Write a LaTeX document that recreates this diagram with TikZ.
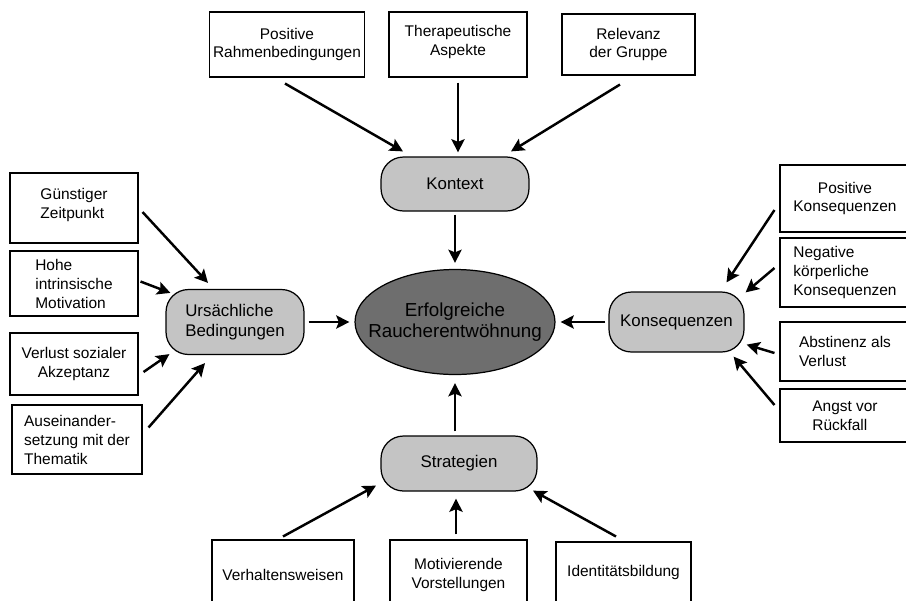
\documentclass[tikz,border=0pt]{standalone}
\usepackage{fontspec}
\setmainfont{Liberation Sans}
\usetikzlibrary{arrows.meta,calc,shapes.geometric}
\definecolor{nodegray}{HTML}{C4C4C4}
\definecolor{goalgray}{HTML}{6E6E6E}
\begin{document}
\begin{tikzpicture}[x=0.02cm, y=-0.02cm,
  leaf/.style={draw, line width=0.6pt, fill=white, align=center, inner sep=2pt, font=\fontsize{8.8}{10.8}\selectfont},
  factor/.style={draw, line width=0.7pt, fill=nodegray, rounded corners=0.45cm, align=left, font=\fontsize{9.6}{11.8}\selectfont},
  flow/.style={-{Stealth[length=7.5pt,width=7.5pt,inset=1.5pt]}, line width=1.4pt}]
\clip (0,0) rectangle (906,600);
% center
\node[draw, ellipse, line width=0.7pt, fill=goalgray, minimum width=4cm, minimum height=2.1cm, inner xsep=-0.34cm, inner ysep=0pt, align=center, font=\fontsize{10.7}{12.2}\selectfont] (goal) at (455,322) {Erfolgreiche\\Raucherentw\"ohnung};
\node[factor, minimum width=2.96cm, minimum height=1.08cm] (ctx) at (455,184) {Kontext};
\node[factor, minimum width=3.12cm, minimum height=1.1cm] (strat) at (459,463.5) {Strategien};
\node[factor, minimum width=2.76cm, minimum height=1.3cm] (cause) at (235,322) {Urs\"achliche\\Bedingungen};
\node[factor, minimum width=2.7cm, minimum height=1.2cm] (cons) at (676.5,322) {Konsequenzen};
% top
\node[leaf, minimum width=3.04cm, minimum height=1.3cm] (rahmen) at (287,44.5) {Positive\\Rahmenbedingungen};
\node[leaf, minimum width=2.76cm, minimum height=1.3cm] (thera) at (458,44.5) {Therapeutische\\Aspekte\\[-6pt]};
\node[leaf, minimum width=2.66cm, minimum height=1.22cm] (gruppe) at (628.5,44.5) {Relevanz\\der Gruppe};
% left
\node[leaf, align=left, minimum width=2.56cm, minimum height=1.4cm] (zeit) at (74,208) {G\"unstiger\\Zeitpunkt\\[-6pt]};
\node[leaf, align=left, minimum width=2.56cm, minimum height=1.3cm] (motiv) at (74,283.5) {Hohe\\intrinsische\\Motivation};
\node[leaf, minimum width=2.56cm, minimum height=1.24cm] (akzept) at (74,364) {Verlust sozialer\\Akzeptanz};
\node[leaf, align=left, minimum width=2.6cm, minimum height=1.38cm] (thema) at (77,439.5) {Auseinander-\\setzung mit der\\Thematik};
% right
\node[leaf, minimum width=2.6cm, minimum height=1.34cm] (poskon) at (845,198.5) {Positive\\Konsequenzen};
\node[leaf, align=left, minimum width=2.6cm, minimum height=1.38cm] (negkon) at (845,272.5) {Negative\\k\"orperliche\\Konsequenzen};
\node[leaf, align=left, minimum width=2.6cm, minimum height=1.18cm] (verlust) at (845,351.5) {Abstinenz als\\Verlust};
\node[leaf, align=left, minimum width=2.6cm, minimum height=1.06cm] (angst) at (845,415.5) {Angst vor\\R\"uckfall};
% bottom
\node[leaf, minimum width=2.84cm, minimum height=1.4cm] (verhalten) at (283,575) {Verhaltensweisen};
\node[leaf, minimum width=2.74cm, minimum height=1.4cm] (vorstell) at (458.5,575) {Motivierende\\Vorstellungen};
\node[leaf, minimum width=2.7cm, minimum height=1.4cm] (ident) at (623.5,577) {Identit\"atsbildung\\[-4pt]};
% arrows into Kontext
\draw[flow] ($(rahmen.south)+(-2,6)$) -- ($(ctx.north)+(-52,-5)$);
\draw[flow] ($(thera.south)+(0,5)$) -- ($(ctx.north)+(3,-4)$);
\draw[flow] ($(gruppe.south)+(-8.5,9)$) -- ($(ctx.north)+(56,-5)$);
% arrows into the center
\draw[flow] ($(ctx.south)+(0,3)$) -- ($(goal.north)+(0,-6)$);
\draw[flow] ($(strat.north)+(-4,-4)$) -- ($(goal.south)+(0,8)$);
\draw[flow] ($(cause.east)+(4,0)$) -- ($(goal.west)+(-5,0)$);
\draw[flow] ($(cons.west)+(-3,0)$) -- ($(goal.east)+(5,0)$);
% arrows into Ursaechliche Bedingungen
\draw[flow] ($(zeit.east)+(4,4)$) -- ($(cause.north)+(-27,-6)$);
\draw[flow] ($(motiv.east)+(2,-2)$) -- ($(cause.north west)+(5,4)$);
\draw[flow] ($(akzept.east)+(5,8)$) -- ($(cause.south west)+(4,-1)$);
\draw[flow] ($(thema.east)+(6,-12)$) -- ($(cause.south)+(-30,8)$);
% arrows into Konsequenzen
\draw[flow] ($(poskon.west)+(-5,11.5)$) -- ($(cons.north)+(50,-9)$);
\draw[flow] ($(negkon.west)+(-5,-4.5)$) -- ($(cons.north east)+(1,1)$);
\draw[flow] ($(verlust.west)+(-5,1.5)$) -- ($(cons.south east)+(2,-8)$);
\draw[flow] ($(angst.west)+(-5,-10.5)$) -- ($(cons.south east)+(-11,4)$);
% arrows into Strategien
\draw[flow] ($(verhalten.north)+(0,-3)$) -- ($(strat.south)+(-83,-6)$);
\draw[flow] ($(vorstell.north)+(-2.5,-5)$) -- ($(strat.south)+(-3,7)$);
\draw[flow] ($(ident.north)+(-7.5,-5)$) -- ($(strat.south)+(74,-1)$);
\end{tikzpicture}
\end{document}
